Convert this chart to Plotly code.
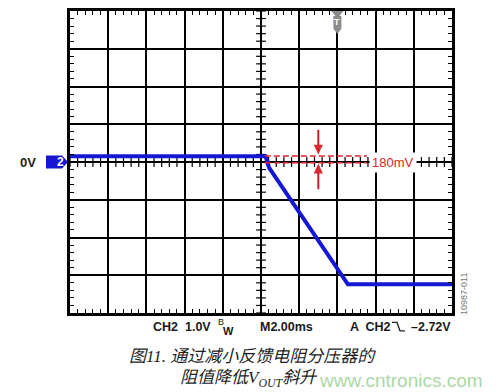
import numpy as np
import plotly.graph_objects as go

# ---- data ----
time_ms = [0.0, 10.24, 10.42, 14.19, 14.55, 20.0]      # 2 ms/div, 10 div
volts = [0.15, 0.15, -0.15, -2.98, -3.24, -3.24]       # 1 V/div, 0 V at centre
ref_upper_v = 0.16
ref_lower_v = -0.02
ref_x_range = [10.2, 15.55]
delta_label = "180mV"
arrow_t = 13.0
trigger_t = 14.0
bottom_labels = ["CH2  1.0V", "M2.00ms", "A  CH2", "\u20132.72V"]
caption1 = "图11. 通过减小反馈电阻分压器的"
caption2 = "阻值降低V<sub>OUT</sub>斜升"
watermark = "www.cntronics.com"
fig_id = "10987-011"

W, H = 499, 392
L, R, T, B = 70, 452, 8, 313
XR = [0, 20]
YR = [-4, 4]


def px(x):
    return (x - L) / (R - L)


def py(y):
    return (B - y) / (B - T)


def dx(x):
    return XR[0] + (x - L) / (R - L) * (XR[1] - XR[0])


def dy(y):
    return YR[1] - (y - T) / (B - T) * (YR[1] - YR[0])


def xpix(t):
    return L + (t - XR[0]) / (XR[1] - XR[0]) * (R - L)


BLUE = "#1616d6"
RED = "#e0242b"

fig = go.Figure()

# centre crosshair minor ticks
cx = np.arange(XR[0], XR[1] + 1e-9, 0.4)
fig.add_trace(go.Scatter(x=cx, y=np.zeros_like(cx), mode="markers",
                         marker=dict(symbol="line-ns", size=7, line=dict(width=1.2, color="black")),
                         hoverinfo="skip", showlegend=False))
cy = np.arange(YR[0], YR[1] + 1e-9, 0.2)
fig.add_trace(go.Scatter(x=np.full_like(cy, 10.0), y=cy, mode="markers",
                         marker=dict(symbol="line-ew", size=7, line=dict(width=1.2, color="black")),
                         hoverinfo="skip", showlegend=False))

# signal
fig.add_trace(go.Scatter(x=time_ms, y=volts, mode="lines",
                         line=dict(color=BLUE, width=4), hoverinfo="skip", showlegend=False))

shapes = []
for v in (ref_upper_v, ref_lower_v):
    shapes.append(dict(type="line", xref="x", yref="y", x0=ref_x_range[0], x1=ref_x_range[1],
                       y0=v, y1=v, line=dict(color=RED, width=1.6, dash="6px,3px")))


def pix_path(points, close=True):
    s = "M " + " L ".join(f"{dx(a):.4f},{dy(b):.4f}" for a, b in points)
    return s + (" Z" if close else "")


# measurement arrows (pixel geometry around arrow_t)
ax_px = xpix(arrow_t)
shapes.append(dict(type="line", xref="x", yref="y", x0=arrow_t, x1=arrow_t, y0=dy(128), y1=dy(146),
                   line=dict(color="#c81f27", width=2)))
shapes.append(dict(type="path", xref="x", yref="y",
                   path=pix_path([(ax_px - 4.5, 143), (ax_px + 4.5, 143), (ax_px, 153)]),
                   fillcolor=RED, line=dict(width=0)))
shapes.append(dict(type="line", xref="x", yref="y", x0=arrow_t, x1=arrow_t, y0=dy(188), y1=dy(170),
                   line=dict(color="#c81f27", width=2)))
shapes.append(dict(type="path", xref="x", yref="y",
                   path=pix_path([(ax_px - 4.5, 172), (ax_px + 4.5, 172), (ax_px, 162)]),
                   fillcolor=RED, line=dict(width=0)))

# trigger marker (grey T)
tx = xpix(trigger_t)
pts = [(tx - 6, 8), (tx + 6, 8), (tx + 2, 13), (tx + 4, 13), (tx + 4, 26), (tx, 31), (tx - 4, 26),
       (tx - 4, 13), (tx - 2, 13)]
shapes.append(dict(type="path", xref="x", yref="y", path=pix_path(pts),
                   fillcolor="#8c8c8c", line=dict(width=0)))

# channel badge "2"
bpts = [(46, 154), (62, 154), (68, 160.5), (62, 167), (46, 167)]
bpath = "M " + " L ".join(f"{px(a):.5f},{py(b):.5f}" for a, b in bpts) + " Z"
shapes.append(dict(type="path", xref="paper", yref="paper", path=bpath,
                   fillcolor="#1616d2", line=dict(width=0)))

# falling edge symbol
epts = [(392, 322.5), (397, 322.5), (400, 331), (405, 331)]
epath = "M " + " L ".join(f"{px(a):.5f},{py(b):.5f}" for a, b in epts)
shapes.append(dict(type="path", xref="paper", yref="paper", path=epath,
                   line=dict(color="#222", width=1.3)))

ann = []
# 180mV label
ann.append(dict(x=px(369), y=py(160.5), xref="paper", yref="paper", xanchor="left", yanchor="middle",
                text=delta_label, showarrow=False, bgcolor="white", borderpad=2,
                font=dict(family="Liberation Sans, Arial", size=13, color=RED)))
# T letter
ann.append(dict(x=trigger_t, y=dy(19.5), xref="x", yref="y", text="<b>T</b>", showarrow=False,
                font=dict(family="Liberation Sans, Arial", size=9, color="white")))
# badge text and 0V
ann.append(dict(x=px(54.5), y=py(160.5), xref="paper", yref="paper", text="<b>2</b>", showarrow=False,
                font=dict(family="Liberation Sans, Arial", size=12, color="white")))
ann.append(dict(x=px(38), y=py(160.5), xref="paper", yref="paper", xanchor="right", text="<b>0V</b>",
                showarrow=False, font=dict(family="Liberation Sans, Arial", size=13, color="#222")))

bfont = dict(family="Liberation Sans, Arial", size=12.5, color="#1a1a1a")
ann.append(dict(x=px(151), y=py(327), xref="paper", yref="paper", xanchor="left", yanchor="middle",
                text="<b>" + bottom_labels[0] + "</b>", showarrow=False, font=bfont))
ann.append(dict(x=px(216), y=py(322), xref="paper", yref="paper", xanchor="left", yanchor="middle",
                text="B", showarrow=False, font=dict(family="Liberation Sans, Arial", size=9, color="#1a1a1a")))
ann.append(dict(x=px(221), y=py(331), xref="paper", yref="paper", xanchor="left", yanchor="middle",
                text="<b>W</b>", showarrow=False, font=dict(family="Liberation Sans, Arial", size=11, color="#1a1a1a")))
ann.append(dict(x=px(258), y=py(327), xref="paper", yref="paper", xanchor="left", yanchor="middle",
                text="<b>" + bottom_labels[1] + "</b>", showarrow=False, font=bfont))
ann.append(dict(x=px(348), y=py(327), xref="paper", yref="paper", xanchor="left", yanchor="middle",
                text="<b>" + bottom_labels[2] + "</b>", showarrow=False, font=bfont))
ann.append(dict(x=px(453), y=py(327), xref="paper", yref="paper", xanchor="right", yanchor="middle",
                text="<b>" + bottom_labels[3] + "</b>", showarrow=False, font=bfont))
ann.append(dict(x=px(471), y=py(317), xref="paper", yref="paper", textangle=-90,
                text=fig_id, showarrow=False,
                font=dict(family="Liberation Sans, Arial", size=9, color="#777")))

# caption
cfont = dict(family="Liberation Serif, Noto Sans CJK SC", size=17, color="#1e1e1e", style="italic")
ann.append(dict(x=px(252), y=py(357), xref="paper", yref="paper", xanchor="center", yanchor="middle",
                text=caption1, showarrow=False, font=cfont))
ann.append(dict(x=px(249), y=py(380), xref="paper", yref="paper", xanchor="center", yanchor="middle",
                text=caption2, showarrow=False, font=cfont))
ann.append(dict(x=px(317), y=py(381), xref="paper", yref="paper", xanchor="left", yanchor="middle",
                text=watermark, showarrow=False,
                font=dict(family="Liberation Sans, Arial", size=19, color="#acd8a4")))

axis_common = dict(showgrid=True, gridcolor="black", gridwidth=2, zeroline=False,
                   showline=True, linecolor="black", linewidth=3, mirror="allticks",
                   ticks="inside", ticklen=4, tickcolor="black", showticklabels=False,
                   fixedrange=True)
fig.update_layout(
    width=W, height=H,
    margin=dict(l=L, r=W - R, t=T, b=H - B, pad=0),
    paper_bgcolor="white", plot_bgcolor="white",
    xaxis=dict(range=XR, dtick=2, tick0=0,
               minor=dict(dtick=0.4, ticks="inside", ticklen=4, tickcolor="black", showgrid=False),
               **axis_common),
    yaxis=dict(range=YR, dtick=1, tick0=0,
               minor=dict(dtick=0.2, ticks="inside", ticklen=4, tickcolor="black", showgrid=False),
               **axis_common),
    shapes=shapes, annotations=ann, showlegend=False,
)

fig.write_html("out.html")
